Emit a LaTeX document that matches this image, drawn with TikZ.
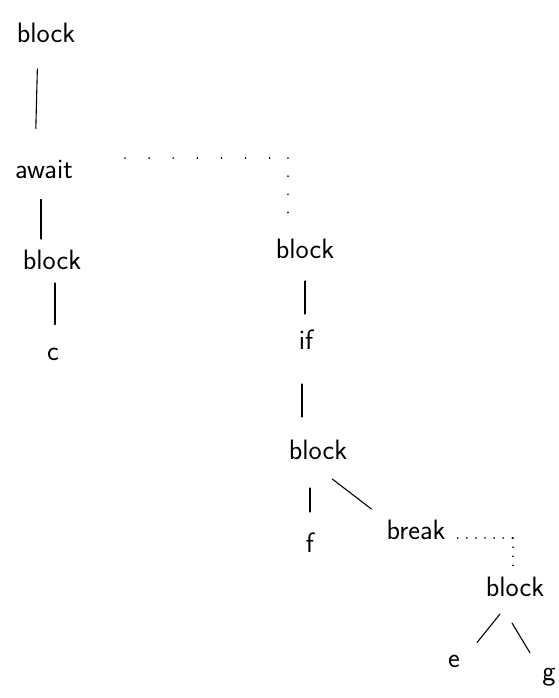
\documentclass[tikz,border=0pt]{standalone}

\begin{document}
\begin{tikzpicture}[x=1pt, y=-1pt,
    word/.style={inner sep=0pt, font=\sffamily\fontsize{28}{32}\selectfont},
    tie/.style={line width=1.1pt, line cap=round},
    trail/.style={line width=1.6pt, line cap=round, dash pattern=on 0.1pt off 18pt}]
              \useasboundingbox (0, 0) rectangle (558, 698);
              % left branch
              \node[word] (top) at (46, 33) {block};
              \node[word] (await) at (44, 170) {await};
              \node[word] (lblock) at (52, 260) {block};
              \node[word] (c) at (53, 354) {c};
              % right branch
              \node[word] (rblock) at (305, 249) {block};
              \node[word] (if) at (306, 340) {if};
              \node[word] (iblock) at (318, 450) {block};
              \node[word] (f) at (310, 543) {f};
              \node[word] (break) at (416, 530) {break};
              \node[word] (bblock) at (515, 587) {block};
              \node[word] (e) at (454, 661) {e};
              \node[word] (g) at (549, 677) {g};
              \coordinate (turn1) at (288, 158);
              \coordinate (turn2) at (513, 538);
              \draw[tie, shorten <=26pt, shorten >=32pt] ([xshift=-8pt]top.south) -- ([xshift=-9pt]await.north);
              \draw[tie, shorten <=20pt, shorten >=11pt] ([xshift=-3pt]await.south) -- ([xshift=-11pt]lblock.north);
              \draw[tie, shorten <=13pt, shorten >=23pt] ([xshift=3pt]lblock.south) -- ([xshift=2pt]c.north);
              \draw[tie, shorten <=22pt, shorten >=16pt] (rblock.south) -- ([xshift=-1pt]if.north);
              \draw[tie, shorten <=34pt, shorten >=23pt] ([xshift=-4pt]if.south) -- ([xshift=-16pt]iblock.north);
              \draw[tie, shorten <=28pt, shorten >=21pt] (iblock.south -| f) -- (f);
              \draw[tie] ([xshift=-15pt, yshift=-19pt]iblock.south east) -- ([xshift=-15pt, yshift=11pt]break.north west);
              \draw[tie] ([xshift=-15pt, yshift=-17pt]bblock.south) -- ([xshift=23pt, yshift=12pt]e.north);
              \draw[tie] ([xshift=-3pt, yshift=-26pt]bblock.south) -- ([xshift=-19pt, yshift=15pt]g.north);
              % dotted jumps
              \draw[trail, dash pattern=on 0.1pt off 24pt, shorten <=52pt] (await.east |- turn1) -- (turn1);
              \draw[trail, shorten >=10pt] (turn1) -- (turn1 |- rblock.north);
              \draw[trail, dash pattern=on 0.1pt off 9pt, shorten <=12pt] (break.east |- turn2) -- (turn2);
              \draw[trail, dash pattern=on 0.1pt off 9pt, shorten >=8pt] (turn2) -- (turn2 |- bblock.north);
        \end{tikzpicture}
\end{document}
